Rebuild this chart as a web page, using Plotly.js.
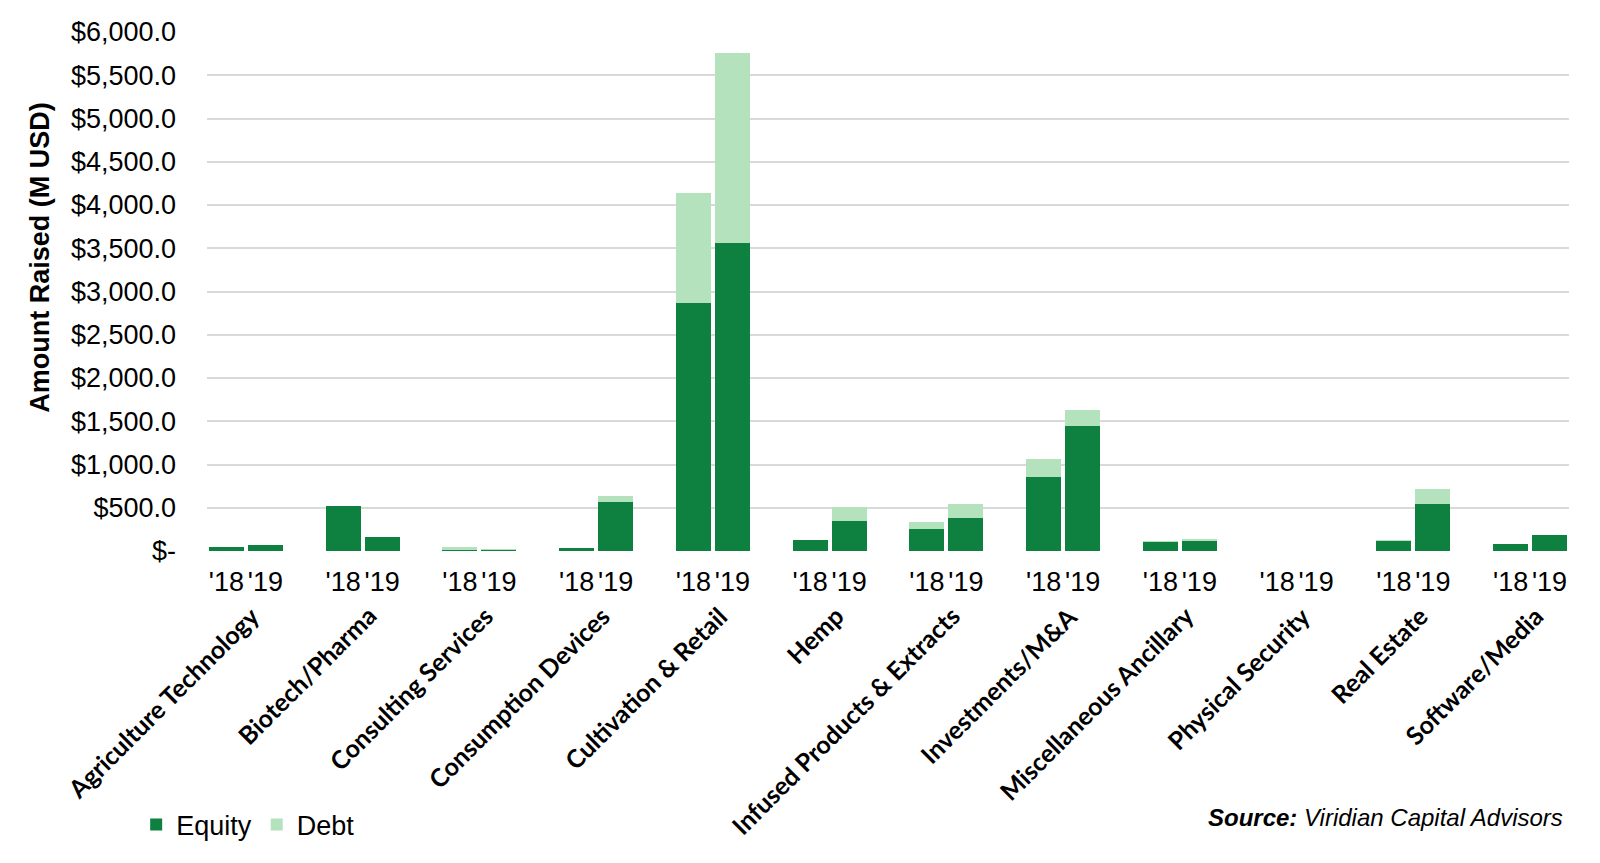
<!DOCTYPE html>
<html>
<head>
<meta charset="utf-8">
<script src="https://cdn.plot.ly/plotly-3.0.1.min.js"></script>
<style>html,body{margin:0;padding:0;background:#fff;}#chart{width:1600px;height:863px;}</style>
</head>
<body>
<div id="chart"></div>
<script>
const categories = ["Agriculture Technology","Biotech/Pharma","Consulting Services","Consumption Devices","Cultivation & Retail","Hemp","Infused Products & Extracts","Investments/M&A","Miscellaneous Ancillary","Physical Security","Real Estate","Software/Media"];
const years = ["'18","'19"];
const equity18 = [50, 520, 15, 40, 2870, 132, 256, 857, 100, 0, 112, 81];
const debt18   = [0, 0, 35, 0, 1265, 0, 85, 209, 19, 0, 19, 0];
const equity19 = [72, 163, 10, 562, 3555, 349, 384, 1442, 119, 0, 546, 188];
const debt19   = [0, 0, 10, 78, 2205, 155, 159, 190, 23, 0, 166, 0];
const yTickVals = [0,500,1000,1500,2000,2500,3000,3500,4000,4500,5000,5500,6000];
const yTickText = ["$-","$500.0","$1,000.0","$1,500.0","$2,000.0","$2,500.0","$3,000.0","$3,500.0","$4,000.0","$4,500.0","$5,000.0","$5,500.0","$6,000.0"];

const SLOTS = 3;
const xs = [], eq = [], db = [], tv = [], tt = [];
categories.forEach((c, g) => {
  [equity18[g], equity19[g]].forEach((v, k) => {
    const x = g * SLOTS + k;
    xs.push(x); eq.push(v);
    db.push(k === 0 ? debt18[g] : debt19[g]);
    tv.push(x); tt.push(years[k]);
  });
});

const EQ_COLOR = "#0e803f", DEBT_COLOR = "#b4e2bd";
const FONT = "Liberation Sans, Arial, sans-serif";
const traces = [
  {type: "bar", name: "Equity", x: xs, y: eq, marker: {color: EQ_COLOR}, width: 0.9},
  {type: "bar", name: "Debt", x: xs, y: db, marker: {color: DEBT_COLOR}, width: 0.9}
];

const annotations = categories.map((c, g) => ({
  text: c, xref: "x", yref: "paper", x: g * SLOTS + 0.5, y: -0.09,
  xanchor: "right", yanchor: "top", textangle: -45, showarrow: false, xshift: 22,
  font: {family: "Lato, 'Open Sans', sans-serif", size: 25, color: "#000", weight: "bold"}
}));
annotations.push({
  text: "Amount Raised (M USD)", xref: "paper", yref: "paper", x: -0.1226, y: 0.565,
  xanchor: "center", yanchor: "middle", textangle: -90, showarrow: false,
  font: {family: FONT, size: 27, color: "#000", weight: "bold"}
});
annotations.push({
  text: "<b><i>Source:</i></b><i> Viridian Capital Advisors</i>", xref: "paper", yref: "paper",
  x: 0.997, y: -0.513, xanchor: "right", yanchor: "middle", showarrow: false,
  font: {family: FONT, size: 24, color: "#000"}
});

const layout = {
  width: 1600, height: 863,
  margin: {l: 207, r: 31, t: 32, b: 312, pad: 0},
  paper_bgcolor: "#fff", plot_bgcolor: "#fff",
  barmode: "stack", bargap: 0,
  showlegend: true,
  legend: {orientation: "h", traceorder: "normal", x: -0.052, y: -0.528, xanchor: "left", yanchor: "middle",
    font: {family: FONT, size: 27, color: "#000"}, itemwidth: 30},
  xaxis: {
    range: [-0.5, categories.length * SLOTS - 1.5],
    tickmode: "array", tickvals: tv, ticktext: tt, tickangle: 0,
    showgrid: false, zeroline: false, showline: false, ticks: "", ticklabelstandoff: 12,
    tickfont: {family: FONT, size: 27, color: "#000"}
  },
  yaxis: {
    range: [0, 6000], tickmode: "array", tickvals: yTickVals, ticktext: yTickText,
    showgrid: true, gridcolor: "#d9d9d9", gridwidth: 2, zeroline: false, showline: false,
    ticks: "", ticklabelstandoff: 30,
    tickfont: {family: FONT, size: 27, color: "#000"}
  },
  annotations: annotations
};

Plotly.newPlot("chart", traces, layout, {staticPlot: true, displayModeBar: false});
</script>
</body>
</html>
